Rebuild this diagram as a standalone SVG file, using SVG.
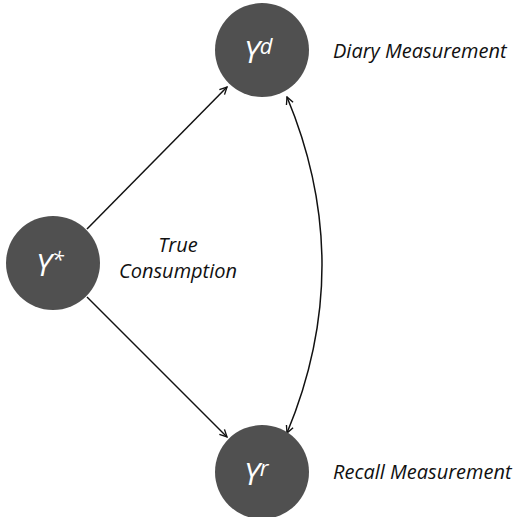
<svg xmlns="http://www.w3.org/2000/svg" width="518" height="517" viewBox="0 0 518 517">
<style>
.node{fill:#505050;}
.nl{font-family:"Open Sans",sans-serif;font-style:italic;fill:#ffffff;font-size:31px;}
.sup{font-size:22px;}
.lbl{font-family:"Open Sans",sans-serif;font-style:italic;fill:#111111;font-size:20px;}
.edge{fill:none;stroke:#111111;stroke-width:1.5;}
</style>
<defs>
<marker id="ah" viewBox="0 0 10 10" refX="9" refY="5" markerWidth="9" markerHeight="9" orient="auto-start-reverse" markerUnits="userSpaceOnUse">
<path d="M1,1 L9,5 L1,9" fill="none" stroke="#111111" stroke-width="1.5"/>
</marker>
</defs>
<rect width="518" height="517" fill="#ffffff"/>
<g id="connectors">
<line class="edge" x1="87" y1="229" x2="227" y2="87" marker-end="url(#ah)"/>
<line class="edge" x1="87" y1="297" x2="227" y2="437" marker-end="url(#ah)"/>
<path class="edge" d="M287,97 Q357,265 287,433" marker-start="url(#ah)" marker-end="url(#ah)"/>
</g>
<g id="ystar">
<circle class="node" cx="53" cy="263" r="47"/>
<text class="nl" x="36" y="276">Y<tspan class="sup" dy="-9">*</tspan></text>
</g>
<g id="yd">
<circle class="node" cx="262" cy="50" r="47"/>
<text class="nl" x="244" y="63">Y<tspan class="sup" dy="-9">d</tspan></text>
</g>
<g id="yr">
<circle class="node" cx="262" cy="472" r="47"/>
<text class="nl" x="244" y="485">Y<tspan class="sup" dy="-9">r</tspan></text>
</g>
<g id="label-true">
<text class="lbl" x="178" y="252" text-anchor="middle">True</text>
<text class="lbl" x="178" y="278" text-anchor="middle">Consumption</text>
</g>
<g id="label-diary">
<text class="lbl" x="333" y="58">Diary Measurement</text>
</g>
<g id="label-recall">
<text class="lbl" x="333" y="479">Recall Measurement</text>
</g>
</svg>
